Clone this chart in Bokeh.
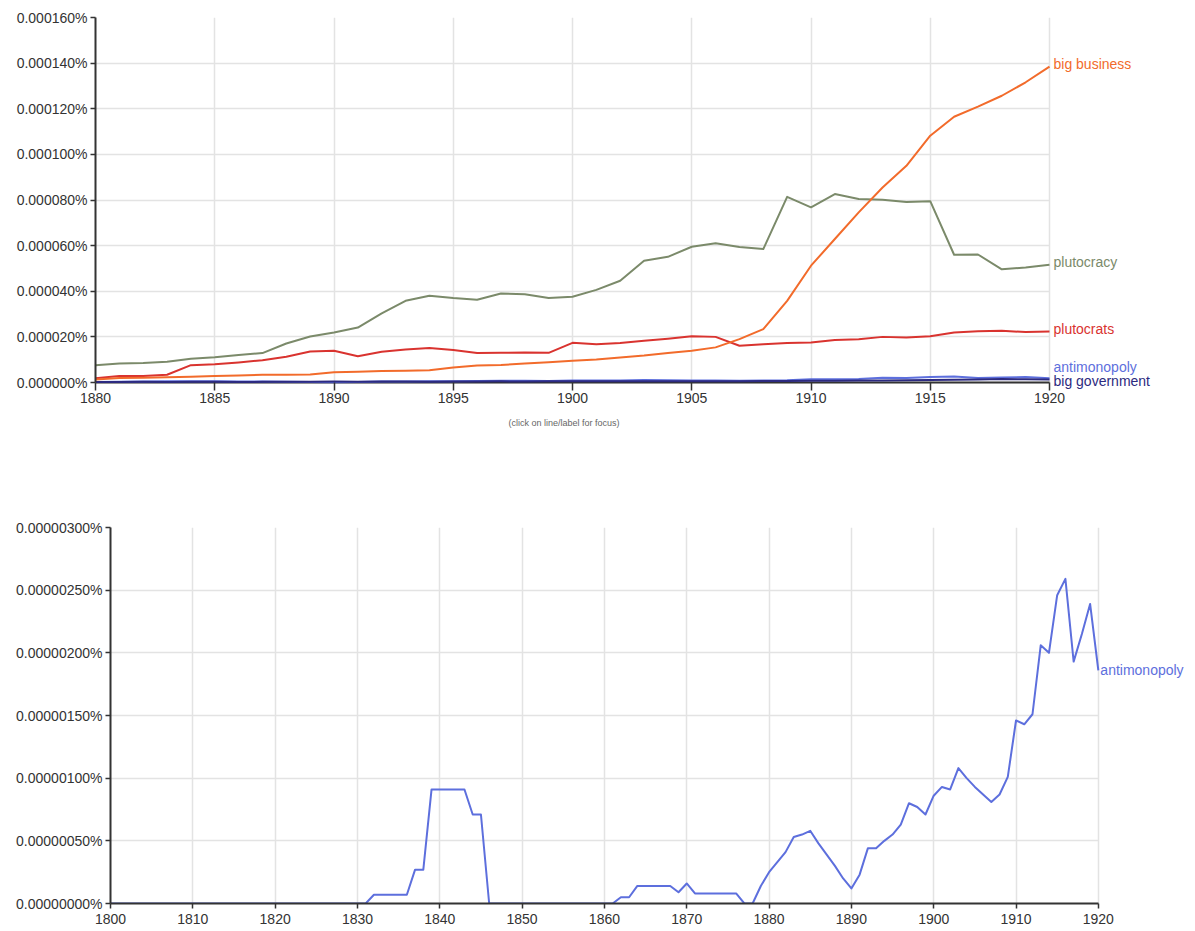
from bokeh.plotting import figure
from bokeh.models import Range1d, FixedTicker, PrintfTickFormatter, Label, Title
from bokeh.embed import file_html
from bokeh.resources import INLINE

# All frequencies below are in millionths of a percent (1.0 -> 0.000001%)
UNIT = 1e-6

# ---------------- top chart data (1880-1920) ----------------
years_top = list(range(1880, 1921))

big_business = [1.3, 2.0, 2.1, 2.3, 2.5, 2.8, 3.1, 3.4, 3.4, 3.5,
                4.5, 4.7, 5.0, 5.1, 5.4, 6.6, 7.5, 7.7, 8.3, 8.9,
                9.5, 10.1, 11.0, 11.8, 12.9, 13.9, 15.4, 19.0, 23.4, 35.8,
                51.2, 62.9, 74.6, 85.5, 95.0, 108.2, 116.5, 120.9, 125.7, 131.6,
                138.5]

plutocracy = [7.6, 8.3, 8.5, 9.1, 10.4, 11.1, 12.1, 12.9, 17.1, 20.2,
              21.9, 24.1, 30.3, 35.8, 38.0, 37.0, 36.3, 39.0, 38.7, 37.0,
              37.6, 40.6, 44.6, 53.4, 55.1, 59.5, 61.0, 59.4, 58.5, 81.4,
              76.8, 82.6, 80.4, 80.1, 79.1, 79.5, 56.0, 56.1, 49.6, 50.4,
              51.6]

plutocrats = [1.9, 2.9, 2.9, 3.4, 7.6, 8.0, 8.8, 9.8, 11.3, 13.6,
              13.9, 11.5, 13.5, 14.5, 15.1, 14.2, 12.9, 13.0, 13.2, 13.0,
              17.4, 16.8, 17.3, 18.3, 19.2, 20.3, 20.0, 16.1, 16.8, 17.3,
              17.5, 18.6, 19.0, 20.0, 19.7, 20.3, 21.9, 22.5, 22.7, 22.1,
              22.4]

big_government = [0.2, 0.2, 0.3, 0.2, 0.3, 0.3, 0.2, 0.3, 0.3, 0.3,
                  0.4, 0.3, 0.4, 0.4, 0.3, 0.4, 0.4, 0.5, 0.4, 0.5,
                  0.5, 0.5, 0.6, 0.5, 0.6, 0.6, 0.5, 0.6, 0.7, 0.7,
                  0.8, 0.8, 0.9, 0.9, 1.0, 1.1, 1.2, 1.3, 1.5, 1.4,
                  1.3]

# ---------------- bottom chart data (1800-1920) ----------------
years_bottom = list(range(1800, 1921))

antimonopoly = [0, 0, 0, 0, 0, 0, 0, 0, 0, 0,                       # 1800s
                0, 0, 0, 0, 0, 0, 0, 0, 0, 0,                       # 1810s
                0, 0, 0, 0, 0, 0, 0, 0, 0, 0,                       # 1820s
                0, 0, 0.07, 0.07, 0.07, 0.07, 0.07, 0.27, 0.27, 0.91,  # 1830s
                0.91, 0.91, 0.91, 0.91, 0.71, 0.71, 0, 0, 0, 0,     # 1840s
                0, 0, 0, 0, 0, 0, 0, 0, 0, 0,                       # 1850s
                0, 0, 0.05, 0.05, 0.14, 0.14, 0.14, 0.14, 0.14, 0.09,  # 1860s
                0.16, 0.08, 0.08, 0.08, 0.08, 0.08, 0.08, 0, 0, 0.14,  # 1870s
                0.25, 0.33, 0.41, 0.53, 0.55, 0.58, 0.48, 0.39, 0.30, 0.20,  # 1880s
                0.12, 0.23, 0.44, 0.44, 0.50, 0.55, 0.63, 0.80, 0.77, 0.71,  # 1890s
                0.86, 0.93, 0.91, 1.08, 1.00, 0.93, 0.87, 0.81, 0.87, 1.01,  # 1900s
                1.46, 1.43, 1.51, 2.06, 2.00, 2.46, 2.59, 1.93, 2.15, 2.39,  # 1910s
                1.86]

# tick values
top_x_ticks = [1880, 1885, 1890, 1895, 1900, 1905, 1910, 1915, 1920]
top_y_ticks = [0, 20, 40, 60, 80, 100, 120, 140, 160]
bottom_x_ticks = [1800, 1810, 1820, 1830, 1840, 1850, 1860, 1870, 1880,
                  1890, 1900, 1910, 1920]
bottom_y_ticks = [0, 0.5, 1.0, 1.5, 2.0, 2.5, 3.0]

FONT = "Liberation Sans"
AXIS = "#333333"
COLORS = {
    "big business": "#f26b2b",
    "plutocracy": "#7b8a6a",
    "plutocrats": "#d9332f",
    "antimonopoly": "#5d6fdd",
    "big government": "#2c2a80",
}


def style(p, xt, yt, fmt):
    p.outline_line_color = None
    p.background_fill_color = "white"
    p.border_fill_color = "white"
    for g in (p.xgrid[0], p.ygrid[0]):
        g.grid_line_color = "#e3e3e3"
        g.grid_line_width = 1.5
    # grid lines stay inside the data area (line labels live outside it)
    p.ygrid[0].cross_bounds = (xt[0], xt[-1])
    p.xgrid[0].cross_bounds = (yt[0] * UNIT, yt[-1] * UNIT)
    p.xaxis.bounds = (xt[0], xt[-1])
    p.yaxis.bounds = (yt[0] * UNIT, yt[-1] * UNIT)
    p.xaxis.ticker = FixedTicker(ticks=xt)
    p.yaxis.ticker = FixedTicker(ticks=[v * UNIT for v in yt])
    p.yaxis.formatter = PrintfTickFormatter(format=fmt)
    for ax in (p.xaxis[0], p.yaxis[0]):
        ax.axis_line_color = AXIS
        ax.axis_line_width = 2
        ax.major_tick_line_color = AXIS
        ax.major_tick_line_width = 1.5
        ax.major_tick_out = 5
        ax.major_tick_in = 0
        ax.minor_tick_line_color = None
        ax.major_label_text_font = FONT
        ax.major_label_text_font_size = "14px"
        ax.major_label_text_color = AXIS
    p.yaxis.major_label_standoff = 3
    p.xaxis.major_label_standoff = 5


# ---------------- top figure ----------------
# 23.85 px per year and 2.28125 px per unit; the frame continues past 1920 and
# a few pixels below 0 so that the line-end labels have room
top_px_per_year = 23.85
top_px_per_unit = 365 / top_y_ticks[-1]
top_frame_w = 1092
top_pad_px = 8
top = figure(frame_width=top_frame_w, frame_height=365 + top_pad_px,
             output_backend="svg", toolbar_location=None,
             x_range=Range1d(years_top[0], years_top[0] + top_frame_w / top_px_per_year),
             y_range=Range1d(-top_pad_px / top_px_per_unit * UNIT, top_y_ticks[-1] * UNIT),
             min_border_left=95, min_border_right=0,
             min_border_top=17, min_border_bottom=60)
style(top, top_x_ticks, top_y_ticks, "%.6f%%")
# the x axis sits at the bottom of the padded frame: draw its line at 0 instead,
# and let the ticks reach up to it
top.xaxis.axis_line_color = None
top.xaxis.major_tick_in = top_pad_px
top.xaxis.major_tick_out = 0
top.xaxis.major_label_standoff = 2
top.line([top_x_ticks[0], top_x_ticks[-1]], [0, 0], line_color=AXIS, line_width=2)

top_series = [
    ("plutocracy", plutocracy, 2.5),
    ("plutocrats", plutocrats, 2.5),
    ("big business", big_business, 3.0),
    ("antimonopoly", antimonopoly[80:], 11.5),
    ("big government", big_government, -1.5),
]
for name, vals, yoff in top_series:
    top.line(years_top, [v * UNIT for v in vals], line_color=COLORS[name],
             line_width=2, line_join="round")
for name, vals, yoff in top_series:
    top.add_layout(Label(x=years_top[-1], y=vals[-1] * UNIT, x_offset=4, y_offset=yoff,
                         text=name, text_baseline="middle", text_align="left",
                         text_font=FONT, text_font_size="14px",
                         text_color=COLORS[name]))

top.add_layout(Title(text="(click on line/label for focus)", align="left", offset=413,
                     text_font=FONT, text_font_size="9px", text_font_style="normal",
                     text_color="#666666", standoff=20), "below")

# ---------------- bottom figure ----------------
bot_px_per_year = 8.232
bot_frame_w = 1077
bottom = figure(frame_width=bot_frame_w, frame_height=376,
                output_backend="svg", toolbar_location=None,
                x_range=Range1d(years_bottom[0], years_bottom[0] + bot_frame_w / bot_px_per_year),
                y_range=Range1d(0, bottom_y_ticks[-1] * UNIT),
                min_border_left=110, min_border_right=0,
                min_border_top=77, min_border_bottom=26)
style(bottom, bottom_x_ticks, bottom_y_ticks, "%.8f%%")

bottom.line(years_bottom, [v * UNIT for v in antimonopoly],
            line_color=COLORS["antimonopoly"], line_width=2, line_join="round")
bottom.add_layout(Label(x=years_bottom[-1], y=antimonopoly[-1] * UNIT, x_offset=2,
                        y_offset=0, text="antimonopoly", text_baseline="middle",
                        text_align="left", text_font=FONT, text_font_size="14px",
                        text_color=COLORS["antimonopoly"]))

open("out.html", "w").write(file_html([top, bottom], INLINE))
